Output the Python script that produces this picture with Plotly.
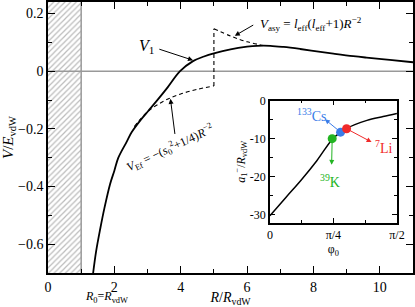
import plotly.graph_objects as go

# ---- main panel data ----
R_v1 = [1.36, 1.45, 1.57, 1.70, 1.87, 2.00, 2.12, 2.37, 2.52, 2.80, 3.02, 3.27, 3.60, 3.98, 4.37, 4.70, 5.00, 5.50, 6.00, 6.30, 6.70, 7.10, 7.60, 8.10, 8.60, 9.20, 9.60, 10.30, 11.00]
V_v1 = [-0.70, -0.625, -0.549, -0.475, -0.392, -0.345, -0.30, -0.245, -0.212, -0.168, -0.138, -0.104, -0.057, 0.000, 0.035, 0.051, 0.062, 0.076, 0.085, 0.088, 0.088, 0.084, 0.077, 0.069, 0.061, 0.052, 0.047, 0.039, 0.031]

R_ef = [2.6, 3.0, 3.5, 4.0, 4.5, 5.0]
V_ef = [-0.192, -0.141, -0.103, -0.079, -0.063, -0.051]

R_jump = [5.0, 5.0]
V_jump = [-0.051, 0.147]

R_asy = [5.0, 5.5, 6.0, 6.6]
V_asy = [0.147, 0.122, 0.102, 0.087]

R0 = 1.0
x_ticks = [0, 2, 4, 6, 8, 10]
y_ticks = [-0.6, -0.4, -0.2, 0, 0.2]

# ---- inset data ----
phi = [0, 0.2, 0.39, 0.58, 0.77, 0.87, 0.95, 1.05, 1.2, 1.4, 1.5708]
a1 = [-30.3, -25.4, -20.8, -15.8, -10.2, -8.4, -7.3, -6.3, -5.2, -4.2, -3.4]

sp_phi = [0.77, 0.874, 0.948]
sp_a = [-10.0, -8.3, -7.4]
sp_col = ["#22b422", "#3a7ce8", "#f02a2a"]
sp_txt = ["<sup>39</sup>K", "<sup>133</sup>Cs", "<sup>7</sup>Li"]

inset_xticks = [0, 0.7854, 1.5708]
inset_xtext = ["0", "π/4", "π/2"]
inset_yticks = [0, -10, -20, -30]
inset_ytext = ["0", "-10", "-20", "-30"]

FONT = "Liberation Serif"
XR = [0, 11]
YR = [-0.7, 0.24]

fig = go.Figure()

# hatched excluded region
fig.add_trace(go.Scatter(x=[0, R0, R0, 0, 0], y=[YR[0], YR[0], YR[1], YR[1], YR[0]],
                         mode="lines", fill="toself", line=dict(width=0),
                         fillpattern=dict(shape="/", fgcolor="#777777", bgcolor="white", size=4, solidity=0.3),
                         hoverinfo="skip", showlegend=False))
# zero line and R0 line
fig.add_trace(go.Scatter(x=XR, y=[0, 0], mode="lines", line=dict(color="#999999", width=1.5), showlegend=False))
fig.add_trace(go.Scatter(x=[R0, R0], y=YR, mode="lines", line=dict(color="#999999", width=1.5), showlegend=False))

# dashed asymptotic forms
dash = dict(color="black", width=1.1, dash="4px,3px")
fig.add_trace(go.Scatter(x=R_ef, y=V_ef, mode="lines", line=dict(shape="spline", **dash), showlegend=False))
fig.add_trace(go.Scatter(x=R_jump, y=V_jump, mode="lines", line=dash, showlegend=False))
fig.add_trace(go.Scatter(x=R_asy, y=V_asy, mode="lines", line=dict(shape="spline", **dash), showlegend=False))

# V1
fig.add_trace(go.Scatter(x=R_v1, y=V_v1, mode="lines", line=dict(color="black", width=1.8, shape="spline"), showlegend=False))

# inset curve
fig.add_trace(go.Scatter(x=phi, y=a1, mode="lines", xaxis="x2", yaxis="y2",
                         line=dict(color="black", width=1.5, shape="spline"), showlegend=False))
fig.add_trace(go.Scatter(x=sp_phi, y=sp_a, mode="markers", xaxis="x2", yaxis="y2",
                         marker=dict(color=sp_col, size=9), showlegend=False))

ax_common = dict(showline=True, linecolor="black", linewidth=1.5, mirror="ticks", ticks="inside",
                 tickcolor="black", showgrid=False, zeroline=False, automargin=False,
                 tickfont=dict(family=FONT, size=14, color="black"))
in_common = dict(showline=True, linecolor="black", linewidth=1.5, mirror="ticks", ticks="inside",
                 tickcolor="black", showgrid=False, zeroline=False, automargin=False,
                 tickfont=dict(family=FONT, size=12, color="black"))

fig.update_layout(
    width=415, height=307, margin=dict(l=48, r=2, t=2, b=34),
    paper_bgcolor="white", plot_bgcolor="white", showlegend=False,
    font=dict(family=FONT, color="black"),
    xaxis=dict(range=XR, tickvals=x_ticks, ticklen=7, tickwidth=1.2,
               minor=dict(dtick=1, tick0=0, ticklen=4, ticks="inside", tickcolor="black"),
               title=dict(text="<i>R</i>/<i>R</i><sub>vdW</sub>", font=dict(family=FONT, size=14), standoff=0),
               **ax_common),
    yaxis=dict(range=YR, tickvals=y_ticks, ticklen=7, tickwidth=1.2,
               minor=dict(dtick=0.1, tick0=0, ticklen=4, ticks="inside", tickcolor="black"),
               title=dict(text="<i>V</i>/<i>E</i><sub>vdW</sub>", font=dict(family=FONT, size=15), standoff=4),
               **ax_common),
    xaxis2=dict(domain=[0.608, 0.956], anchor="y2", range=[0, 1.5708], tickvals=inset_xticks, ticktext=inset_xtext,
                ticklen=5, minor=dict(tickvals=[0.3927, 1.1781], ticklen=3, ticks="inside", tickcolor="black"),
                title=dict(text="φ<sub>0</sub>", font=dict(family=FONT, size=12), standoff=0),
                **in_common),
    yaxis2=dict(domain=[0.1845, 0.636], anchor="x2", range=[-32.2, 0], tickvals=inset_yticks, ticktext=inset_ytext,
                ticklen=5, minor=dict(dtick=5, tick0=0, ticklen=3, ticks="inside", tickcolor="black"),
                title=dict(text="<i>a</i><sub>1</sub><sup>−</sup>/<i>R</i><sub>vdW</sub>", font=dict(family=FONT, size=12), standoff=2),
                **in_common),
)

arrow = dict(showarrow=True, arrowhead=2, arrowsize=1, arrowwidth=1, text="")
# V1 label + arrow
fig.add_annotation(x=2.98, y=0.085, xref="x", yref="y", text="<i>V</i><sub>1</sub>", showarrow=False,
                   font=dict(family=FONT, size=16))
fig.add_annotation(x=4.37, y=0.038, ax=3.31, ay=0.078, xref="x", yref="y", axref="x", ayref="y",
                   arrowcolor="black", **arrow)
# V_asy label + arrow
fig.add_annotation(x=6.33, y=0.164, xref="x", yref="y", xanchor="left", showarrow=False,
                   text="<i>V</i><sub>asy</sub> = <i>l</i><sub>eff</sub>(<i>l</i><sub>eff</sub>+1)<i>R</i><sup>−2</sup>",
                   font=dict(family=FONT, size=13))
fig.add_annotation(x=5.63, y=0.123, ax=6.23, ay=0.163, xref="x", yref="y", axref="x", ayref="y",
                   arrowcolor="black", **arrow)
# V_Ef label + arrow
fig.add_annotation(x=3.67, y=-0.267, xref="x", yref="y", showarrow=False, textangle=-25,
                   text="<i>V</i><sub>Ef</sub> = −(<i>s</i><sub>0</sub><sup>2</sup>+1/4)<i>R</i><sup>−2</sup>",
                   font=dict(family=FONT, size=12))
fig.add_annotation(x=3.69, y=-0.096, ax=3.83, ay=-0.223, xref="x", yref="y", axref="x", ayref="y",
                   arrowcolor="black", **arrow)
# R0 = RvdW
fig.add_annotation(x=(83 - 48) / 365, y=-(297 - 273) / 271, xref="paper", yref="paper", showarrow=False,
                   yanchor="middle", text="<i>R</i><sub>0</sub>=<i>R</i><sub>vdW</sub>", font=dict(family=FONT, size=12))

# species arrows and labels
sp_tip = [(0.763, -16.9), (0.68, -4.9), (1.257, -10.9)]
sp_lab = [(0.74, -21.1), (0.52, -3.9), (1.40, -12.2)]
for i in range(3):
    fig.add_annotation(x=sp_tip[i][0], y=sp_tip[i][1], ax=sp_phi[i], ay=sp_a[i], xref="x2", yref="y2",
                       axref="x2", ayref="y2", arrowcolor=sp_col[i], **arrow)
    fig.add_annotation(x=sp_lab[i][0], y=sp_lab[i][1], xref="x2", yref="y2", showarrow=False, text=sp_txt[i],
                       font=dict(family=FONT, size=14, color=sp_col[i]))

fig.write_html("out.html", config={"displayModeBar": False},
               post_script="document.body.style.margin='0';document.body.style.padding='0';document.body.style.overflow='hidden';")
